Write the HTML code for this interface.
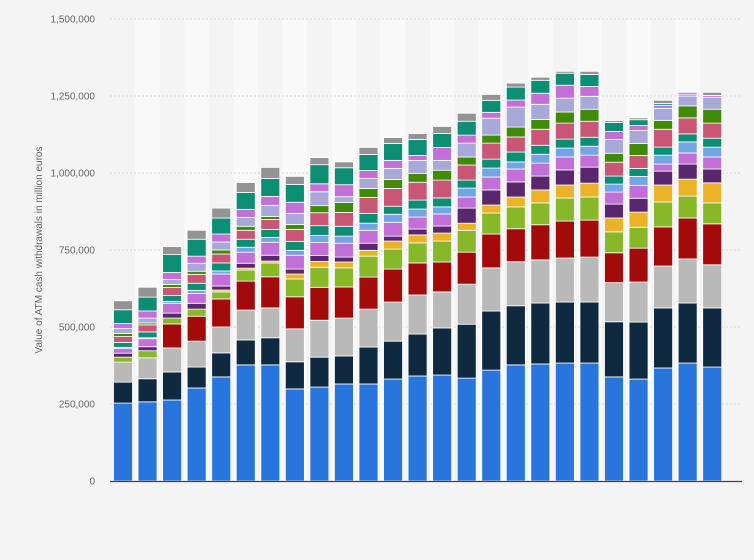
<!DOCTYPE html>
<html><head><meta charset="utf-8"><style>
html,body{margin:0;padding:0;background:#f4f4f4;}
svg{display:block;font-family:"Liberation Sans",sans-serif;}
</style></head><body>
<svg id="chart" width="754" height="560" viewBox="0 0 754 560">
<rect x="0" y="0" width="754" height="560" fill="#f4f4f4"/>
<g id="bands"></g><g id="grid"></g><g id="bars"></g><g id="axis"></g>
<text transform="translate(42,250) rotate(-90)" text-anchor="middle" font-size="10" fill="#666">Value of ATM cash withdrawals in million euros</text>
</svg>
<script>
const categories=["1","2","3","4","5","6","7","8","9","10","11","12","13","14","15","16","17","18","19","20","21","22","23","24","25"];
const tickValues=[0,250000,500000,750000,1000000,1250000,1500000];
const tickLabels=["0","250,000","500,000","750,000","1,000,000","1,250,000","1,500,000"];
const seriesNames=["blue","navy","gray","red","green","yellow","purple","violet","lightblue","teal","pink","darkgreen","lavender","violet2","teal2","graytop"];
const seriesColors=["#2876dd","#0f2a40","#b9b9b9","#a30a0a","#86b827","#ebb325","#5a276e","#c26fd8","#74a4e3","#0b8e73","#c95674","#3f8a07","#a8a9d8","#c26fd8","#0b8e73","#939393"];
// values in thousands of million euros
const sBlue=[253,257,263,302,338,377,377,299,305,315,315,331,341,344,334,360,377,380,383,383,338,331,367,383,370];
const sNavy=[68,75,91,68,78,81,88,88,97,91,120,123,136,153,175,192,192,198,198,198,179,185,195,195,192];
const sGray=[65,68,78,84,84,97,97,107,120,123,123,127,127,117,130,140,143,140,143,146,127,130,136,143,140];
const sRed=[0,0,78,81,91,94,101,104,107,101,104,107,104,97,104,110,107,114,120,120,97,110,127,133,133];
const sGreen=[16,23,19,23,23,36,45,58,65,62,68,65,65,68,71,68,71,71,75,75,68,68,81,71,68];
const sYellow=[0,0,0,0,6,6,6,16,19,19,19,26,26,26,23,26,32,42,42,45,45,49,55,55,65];
const sPurple=[13,13,16,19,13,16,19,16,19,16,23,16,19,23,49,49,49,45,49,52,45,45,45,49,45];
const sViolet=[16,26,32,32,39,36,42,45,42,45,42,45,39,39,36,42,42,42,42,39,39,42,23,36,39];
const sLightBlue=[3,3,6,10,10,16,16,16,23,23,23,26,26,23,29,29,23,29,29,29,26,29,29,36,32];
const sTeal=[16,19,19,23,26,26,26,29,32,32,32,26,29,29,26,29,32,29,29,29,26,26,26,26,29];
const sPink=[19,23,26,29,29,29,32,39,42,45,52,58,58,58,49,52,49,52,52,52,45,42,58,52,49];
const sDarkGreen=[10,6,10,10,13,13,10,16,23,32,29,29,29,32,26,26,32,32,36,39,29,39,29,39,45];
const sLavender=[16,16,16,26,26,29,36,36,45,19,32,36,42,32,45,55,65,49,45,42,45,42,39,32,39];
const sViolet2=[16,23,23,23,26,26,29,36,26,39,26,26,16,42,26,19,23,36,42,32,26,16,10,6,6];
const sTeal2=[45,45,58,55,52,55,58,58,62,55,52,55,52,45,45,39,42,42,39,39,29,19,6,0,0];
const sGrayTop=[29,32,26,29,32,32,36,26,23,19,23,19,19,23,26,19,13,10,6,10,6,6,10,6,10];
const series=[sBlue,sNavy,sGray,sRed,sGreen,sYellow,sPurple,sViolet,sLightBlue,sTeal,sPink,sDarkGreen,sLavender,sViolet2,sTeal2,sGrayTop];

const NS="http://www.w3.org/2000/svg";
const y0=481,yTop=19,maxV=1500000;
function yScale(v){return y0-(v/maxV)*(y0-yTop);}
function xScale(i){return 123+i*24.55;}
const bw=19;
function mk(tag,attrs,parent){const e=document.createElementNS(NS,tag);for(const k in attrs)e.setAttribute(k,attrs[k]);parent.appendChild(e);return e;}
const bands=document.getElementById('bands'),grid=document.getElementById('grid'),bars=document.getElementById('bars'),axis=document.getElementById('axis');
categories.forEach((c,i)=>{
  if(i%2===1){
    const b=mk('rect',{x:xScale(i)-12.3,y:yTop,width:24.55,height:y0-yTop,fill:'#f9f9f9'},bands);
    
    
  }
});
tickValues.forEach((t,k)=>{
  const y=yScale(t);
  if(t>0){
    const l=mk('line',{x1:110,x2:742,y1:y,y2:y,stroke:'#dcdcdc','stroke-width':1,'stroke-dasharray':'2,2'},grid);
    
    
  }
  const tx=mk('text',{x:95,y:y+3.5,'text-anchor':'end','font-size':'10',fill:'#666'},axis);
  tx.textContent=tickLabels[k];
  
  
});
categories.forEach((c,i)=>{
  let cum=0;
  const g=mk('g',{},bars);
  
  
  series.forEach((s,si)=>{
    const v=s[i]*1000;
    if(v<=0)return;
    const yb=yScale(cum),yt=yScale(cum+v);
    cum+=v;
    const r=mk('rect',{x:xScale(i)-bw/2,y:yt,width:bw,height:Math.max(0,yb-yt),fill:seriesColors[si],stroke:'#ffffff','stroke-width':0.8},g);
    
    
  });
});
const base=mk('line',{x1:110,x2:742,y1:y0+0.5,y2:y0+0.5,stroke:'#444','stroke-width':1.2},axis);


</script>
</body></html>
